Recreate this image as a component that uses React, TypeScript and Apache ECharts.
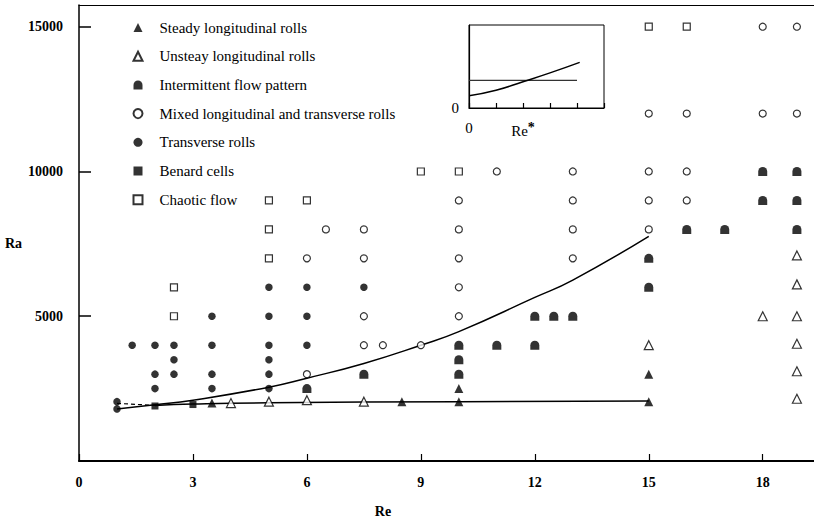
import React, { useEffect, useRef } from 'react';
import * as echarts from 'echarts';

// Main chart data: [Re, Ra]
const steadyRolls = [[3.5, 2000], [8.5, 2050], [10, 2050], [10, 2500], [15, 2050], [15, 3000]];
const unsteadyRolls = [[4, 2000], [5, 2050], [6, 2100], [7.5, 2050], [15, 4000], [18, 5000],
  [18.9, 7100], [18.9, 6100], [18.9, 5000], [18.9, 4050], [18.9, 3100], [18.9, 2150]];
const intermittent = [[6, 2500], [7.5, 3000], [10, 4000], [10, 3500], [10, 3000], [11, 4000],
  [12, 4000], [12, 5000], [12.5, 5000], [13, 5000], [15, 7000], [15, 6000], [16, 8000], [17, 8000],
  [18, 9000], [18, 10000], [18.9, 10000], [18.9, 9000], [18.9, 8000]];
const mixedRolls = [[6, 7000], [6, 3000], [6.5, 8000], [7.5, 8000], [7.5, 7000], [7.5, 5000],
  [7.5, 4000], [8, 4000], [9, 4000], [10, 9000], [10, 8000], [10, 7000], [10, 6000], [10, 5000],
  [11, 10000], [13, 10000], [13, 9000], [13, 8000], [13, 7000], [15, 12000], [15, 10000], [15, 9000],
  [15, 8000], [16, 12000], [16, 10000], [16, 9000], [18, 15000], [18, 12000], [18.9, 15000], [18.9, 12000]];
const transverseRolls = [[1, 2050], [1, 1800], [1.4, 4000], [2, 4000], [2, 3000], [2, 2500],
  [2.5, 4000], [2.5, 3500], [2.5, 3000], [3.5, 5000], [3.5, 4000], [3.5, 3000], [3.5, 2500],
  [5, 6000], [5, 5000], [5, 4000], [5, 3500], [5, 3000], [5, 2500], [6, 6000], [6, 5000], [6, 4000],
  [7.5, 6000]];
const benardCells = [[2, 1900], [3, 1950]];
const chaoticFlow = [[2.5, 6000], [2.5, 5000], [5, 9000], [5, 8000], [5, 7000], [6, 9000],
  [9, 10000], [10, 10000], [15, 15000], [16, 15000]];

// Fitted curves
const upperCurve = [[1, 1800], [2, 1940], [3, 2100], [5, 2550], [6, 2860], [7.5, 3370], [9, 4000],
  [10, 4470], [12, 5650], [13, 6250], [15, 7760]];
const flatLine = [[2, 1920], [3, 1965], [5, 2010], [10, 2050], [15, 2070]];
const dashedLine = [[1, 1990], [2, 1920]];

// Inset
const insetFlat = [[0, 1], [4, 1]];
const insetCurve = [[0, 0.44], [1, 0.64], [2, 0.95], [3, 1.27], [4.1, 1.65]];

const legendNames = [
  'Steady longitudinal rolls',
  'Unsteay longitudinal rolls',
  'Intermittent flow pattern',
  'Mixed longitudinal and transverse rolls',
  'Transverse rolls',
  'Benard cells',
  'Chaotic flow',
];

const FONT = 'Liberation Serif';
const DOME = 'path://M0,10 L0,5 A5,5 0 0 1 10,5 L10,10 Z';

const filled = { color: '#000' };
const hollow = { color: '#fff', borderColor: '#000', borderWidth: 1.2 };

export default function App() {
  const ref = useRef<HTMLDivElement>(null);
  useEffect(() => {
    if (!ref.current) return;
    const chart = echarts.init(ref.current, undefined, { renderer: 'svg' });
    const scatter = (name: string, data: number[][], symbol: string, size: any, itemStyle: any) => ({
      name, type: 'scatter', data, symbol, symbolSize: size, itemStyle, z: 5,
      xAxisIndex: 0, yAxisIndex: 0, silent: true,
    });
    const line = (data: number[][], extra: any) => ({
      type: 'line', data, symbol: 'none', smooth: true, silent: true, z: 3,
      lineStyle: { color: '#000', width: 1.5 }, ...extra,
    });
    chart.setOption({
      animation: false,
      backgroundColor: '#fff',
      textStyle: { fontFamily: FONT },
      grid: [
        { left: 79, right: 0, top: 5, bottom: 58 },
        { left: 469, top: 25, width: 135, height: 83, show: true, borderColor: '#000', borderWidth: 1 },
      ],
      legend: {
        data: legendNames,
        orient: 'vertical',
        left: 127.5,
        top: 15,
        itemWidth: 9,
        itemHeight: 9,
        itemGap: 13.7,
        selectedMode: false,
        textStyle: { fontFamily: FONT, fontSize: 15, color: '#000', lineHeight: 15, padding: [0, 0, 0, 12] },
      },
      xAxis: [
        {
          type: 'value', gridIndex: 0, min: 0, max: 19.35, interval: 3,
          axisLine: { lineStyle: { color: '#000', width: 2 } },
          axisTick: { inside: true, length: 7, lineStyle: { color: '#000', width: 1.2 } },
          axisLabel: { margin: 14, fontFamily: FONT, fontWeight: 'bold', fontSize: 14, color: '#000', showMaxLabel: false },
          splitLine: { show: false },
          name: 'Re', nameLocation: 'middle', nameGap: 43,
          nameTextStyle: { fontFamily: FONT, fontWeight: 'bold', fontSize: 14, color: '#000', padding: [0, 127, 0, 0] },
        },
        {
          type: 'value', gridIndex: 0, position: 'top', min: 0, max: 19.35,
          axisLine: { lineStyle: { color: '#000', width: 1.2 } },
          axisTick: { show: false }, axisLabel: { show: false }, splitLine: { show: false },
        },
        {
          type: 'value', gridIndex: 1, min: 0, max: 5, interval: 1,
          axisLine: { lineStyle: { color: '#000', width: 1.2 } },
          axisTick: { inside: true, length: 5, lineStyle: { color: '#000', width: 1.2 } },
          axisLabel: {
            margin: 12, fontFamily: FONT, fontSize: 15, color: '#000',
            formatter: (v: number) => (v === 0 ? '0' : v === 2 ? 'Re{s|*}' : ''),
            rich: { s: { fontFamily: FONT, fontSize: 14, fontWeight: 'bold', color: '#000', padding: [0, 0, 8, 0] } },
          },
          splitLine: { show: false },
        },
      ],
      yAxis: [
        {
          type: 'value', gridIndex: 0, min: 0, max: 15750, interval: 5000,
          axisLine: { lineStyle: { color: '#000', width: 1.5 } },
          axisTick: { inside: true, length: 12, lineStyle: { color: '#000', width: 1.5 } },
          axisLabel: {
            margin: 16, fontFamily: FONT, fontWeight: 'bold', fontSize: 14, color: '#000', showMaxLabel: false,
            formatter: (v: number) => (v === 0 ? '' : String(v)),
          },
          splitLine: { show: false },
          name: 'Ra', nameLocation: 'middle', nameRotate: 0, nameGap: 54,
          nameTextStyle: { fontFamily: FONT, fontWeight: 'bold', fontSize: 14, color: '#000', verticalAlign: 'top', lineHeight: 20 },
        },
        {
          type: 'value', gridIndex: 1, min: 0, max: 3, interval: 1,
          axisLine: { show: true, lineStyle: { color: '#000', width: 1.2 } },
          axisTick: { show: false },
          axisLabel: { margin: 10, fontFamily: FONT, fontSize: 15, color: '#000', formatter: (v: number) => (v === 0 ? '0' : '') },
          splitLine: { show: false },
        },
      ],
      series: [
        line(upperCurve, { xAxisIndex: 0, yAxisIndex: 0 }),
        line(flatLine, { xAxisIndex: 0, yAxisIndex: 0 }),
        line(dashedLine, { xAxisIndex: 0, yAxisIndex: 0, smooth: false, lineStyle: { color: '#000', width: 1.2, type: [4, 3] } }),
        line(insetFlat, { xAxisIndex: 2, yAxisIndex: 1, smooth: false, lineStyle: { color: '#333', width: 1.3 } }),
        line(insetCurve, { xAxisIndex: 2, yAxisIndex: 1, lineStyle: { color: '#000', width: 1.5 } }),
        scatter(legendNames[0], steadyRolls, 'triangle', 9, filled),
        scatter(legendNames[1], unsteadyRolls, 'triangle', 9, hollow),
        scatter(legendNames[2], intermittent, DOME, [9, 9], filled),
        scatter(legendNames[3], mixedRolls, 'circle', 7, hollow),
        scatter(legendNames[4], transverseRolls, 'circle', 7.5, filled),
        scatter(legendNames[5], benardCells, 'rect', 7, filled),
        scatter(legendNames[6], chaoticFlow, 'rect', 7, hollow),
      ],
    });
    return () => chart.dispose();
  }, []);
  return <div ref={ref} style={{ width: 814, height: 523, position: 'absolute', left: 0, top: 0 }} />;
}
